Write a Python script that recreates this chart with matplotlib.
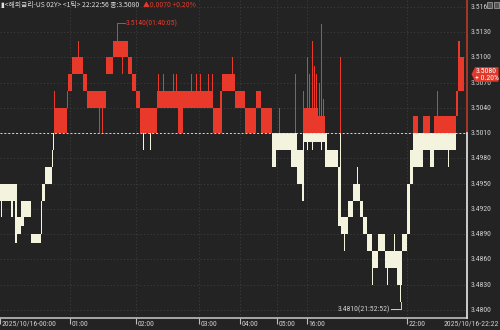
import numpy as np
import matplotlib
matplotlib.use("Agg")
import matplotlib.pyplot as plt
from matplotlib.patches import Polygon, Rectangle
from matplotlib import font_manager
from matplotlib.transforms import blended_transform_factory

# previous close (baseline) and last tick
base = 3.5010
last = 3.5080

# tick chart compressed into columns: runs of (length, low, high)
run_len = [11, 2, 2, 2, 4, 3, 7, 10, 1, 3, 7, 1, 1, 1, 12, 1, 4, 11, 4, 19,
           7, 15, 4, 4, 4, 17, 21, 5, 30, 7, 2, 13, 10, 11, 5, 11, 4, 16, 5, 5,
           2, 14, 7, 2, 11, 3, 7, 5, 7, 3, 4, 5, 6, 7, 13, 4, 5, 3, 3, 4,
           6, 7, 4, 22, 2, 2, 4]
run_lo = [3.4930, 3.4910, 3.4930, 3.4880, 3.4890, 3.4900, 3.4910, 3.4880, 3.4890, 3.4930,
          3.4950, 3.4970, 3.4990, 3.5010, 3.5010, 3.5040, 3.5060, 3.5080, 3.5060, 3.5040,
          3.5080, 3.5100, 3.5080, 3.5060, 3.5040, 3.5010, 3.5040, 3.5010, 3.5040, 3.5010,
          3.5010, 3.5060, 3.5040, 3.5010, 3.5040, 3.5010, 3.4970, 3.4990, 3.4970, 3.4950,
          3.4930, 3.5000, 3.5000, 3.4970, 3.4970, 3.4900, 3.4890, 3.4910, 3.4930, 3.4910,
          3.4890, 3.4870, 3.4850, 3.4870, 3.4850, 3.4830, 3.4870, 3.4890, 3.4950, 3.4970,
          3.4970, 3.4990, 3.4970, 3.4990, 3.5030, 3.5060, 3.5060]
run_hi = [3.4950, 3.4950, 3.4950, 3.4950, 3.4910, 3.4930, 3.4930, 3.4890, 3.4930, 3.4950,
          3.4970, 3.4990, 3.5010, 3.5060, 3.5040, 3.5060, 3.5080, 3.5100, 3.5080, 3.5060,
          3.5100, 3.5120, 3.5100, 3.5080, 3.5060, 3.5040, 3.5060, 3.5060, 3.5060, 3.5040,
          3.5060, 3.5080, 3.5060, 3.5040, 3.5060, 3.5040, 3.5010, 3.5010, 3.5010, 3.4990,
          3.4990, 3.5040, 3.5030, 3.5010, 3.4990, 3.4970, 3.4910, 3.4930, 3.4950, 3.4930,
          3.4910, 3.4890, 3.4870, 3.4890, 3.4870, 3.4870, 3.4890, 3.4950, 3.4990, 3.5030,
          3.5010, 3.5030, 3.5010, 3.5030, 3.5060, 3.5120, 3.5100]

# single-tick spikes: (column, low, high)
spike_at = [1, 78, 99, 102, 117, 122, 143, 150, 158, 163, 173, 176, 191, 196, 200,
            208, 212, 232, 279, 291, 295, 303, 307, 309, 312, 314, 316, 319, 321, 323,
            340, 344, 357, 372, 387, 394, 397, 400, 417, 437, 448]
spike_lo = [3.4910, 3.5080, 3.5010, 3.5010, 3.5100, 3.5080, 3.4990, 3.4990, 3.5040, 3.5040,
            3.5040, 3.5040, 3.5040, 3.5040, 3.5040, 3.5040, 3.5040, 3.5060, 3.4990, 3.4970,
            3.4970, 3.4930, 3.4990, 3.5000, 3.4990, 3.5000, 3.5000, 3.5000, 3.4990, 3.5000,
            3.4900, 3.4870, 3.4930, 3.4830, 3.4830, 3.4850, 3.4830, 3.4810, 3.4970, 3.4990,
            3.4970]
spike_hi = [3.4950, 3.5120, 3.5060, 3.5060, 3.5140, 3.5120, 3.5040, 3.5040, 3.5080, 3.5080,
            3.5080, 3.5080, 3.5080, 3.5080, 3.5080, 3.5080, 3.5080, 3.5100, 3.5040, 3.5010,
            3.5080, 3.5060, 3.5100, 3.5080, 3.5120, 3.5090, 3.5080, 3.5070, 3.5140, 3.5050,
            3.5100, 3.4910, 3.4970, 3.4870, 3.4870, 3.4890, 3.4870, 3.4870, 3.5030, 3.5060,
            3.5030]

yticks = [3.480 + 0.003 * i for i in range(13)]
time_pos = [0, 70, 136, 199, 240, 277, 307, 407]
time_lab = ["2025/10/16-00:00", "01:00", "02:00", "03:00", "04:00", "05:00", "16:00", "22:00"]
last_time = "2025/10/16-22:22"
max_idx, max_lab = 117, "3.5140(01:40:05)"
min_idx, min_lab = 400, "3.4810(21:52:52)"
header = "\u25ae<해외금리-US 02Y> <1틱> 22:22:56 종:3.5080"
header_chg = "\u25b20.0070 +0.20%"

# --- build column ranges ---
lo = np.repeat(run_lo, run_len)
hi = np.repeat(run_hi, run_len)
for c, a, b in zip(spike_at, spike_lo, spike_hi):
    lo[c] = min(lo[c], a)
    hi[c] = max(hi[c], b)
cols = np.arange(len(lo))

# narrow font if one is installed
have = {f.name for f in font_manager.fontManager.ttflist}
narrow = [n for n in ["Liberation Sans Narrow", "DejaVu Sans Condensed", "Roboto Condensed"] if n in have]
if narrow:
    fnt = dict(family=[narrow[0], "DejaVu Sans"], fontsize=5.6)
else:
    fnt = dict(family=["Liberation Sans", "DejaVu Sans"], fontsize=4.9)

BG = "#232323"
RED = "#e8392b"
CREAM = "#f4f4de"
TXT = "#cfcfcf"
W, H = 500, 330
ymin, ymax = 3.47905, 3.51681

fig = plt.figure(figsize=(5, 3.3), dpi=100, facecolor=BG)
ax = fig.add_axes([0, 12 / H, 467 / W, 318 / H])
ax.set_facecolor(BG)
ax.set_xlim(0, 467)
ax.set_ylim(ymin, ymax)

for v in yticks:
    ax.axhline(v, color="#3f3f3f", lw=0.6, ls=(0, (1.5, 2.5)), zorder=0)
for t in time_pos[1:]:
    ax.axvline(t, color="#3f3f3f", lw=0.6, ls=(0, (1.5, 2.5)), zorder=0)

# red part above the previous close, cream part below
up_lo = np.maximum(lo, base)
up_h = np.where(hi > base, hi - up_lo, 0)
dn_hi = np.minimum(hi, base)
dn_h = np.where(lo < base, dn_hi - lo, 0)
ax.bar(cols, np.where(up_h > 0, np.maximum(up_h, 0.00012), 0), bottom=up_lo,
       width=1.0, align="edge", color=RED, linewidth=0, zorder=2)
ax.bar(cols, np.where(dn_h > 0, np.maximum(dn_h, 0.00012), 0), bottom=lo,
       width=1.0, align="edge", color=CREAM, linewidth=0, zorder=2)

ax.axhline(base, color="#d8d8d8", lw=0.7, ls=(0, (2, 2)), zorder=3)

# right border: red above close, light below
ax.plot([467, 467], [base, ymax], color="#c0392b", lw=1.2, clip_on=False, zorder=4)
ax.plot([467, 467], [ymin, base], color="#e8e8e8", lw=1.2, clip_on=False, zorder=4)

for s in ["top", "right", "left"]:
    ax.spines[s].set_visible(False)
ax.spines["bottom"].set_color("#bdbdbd")
ax.spines["bottom"].set_linewidth(1.2)
ax.set_yticks([])
ax.set_xticks(time_pos)
ax.set_xticklabels([])
ax.tick_params(axis="x", direction="out", length=4, width=0.8, color="#bdbdbd")

xfig = blended_transform_factory(ax.transData, fig.transFigure)
for t, lab in zip(time_pos, time_lab):
    ax.text(t + 1.5, 1 - 323.5 / H, lab, transform=xfig, color=TXT, ha="left",
            va="center", clip_on=False, **fnt)
fig.text(499 / W, 1 - 323.5 / H, last_time, color=TXT, ha="right", va="center", **fnt)

for v in yticks:
    ax.text(1.008, (v - ymin) / (ymax - ymin), "%.4f" % v, transform=ax.transAxes,
            color=TXT, va="center", ha="left", clip_on=False, **fnt)

# max / min annotations
ax.plot([max_idx, max_idx + 8], [3.5141, 3.5141], color=RED, lw=0.7, zorder=4)
ax.text(max_idx + 9, 3.5141, max_lab, color=RED, va="center", ha="left", **fnt)
ax.plot([min_idx + 0.5, min_idx + 0.5, min_idx - 9], [lo[min_idx], 3.4801, 3.4801],
        color=TXT, lw=0.7, zorder=4, clip_on=False)
ax.text(min_idx - 10, 3.4801, min_lab, color=TXT, va="center", ha="right", **fnt)

# last price tag
yl = (12 + (last - ymin) / (ymax - ymin) * 318) / H
tag = Polygon([(471.5 / W, yl), (475 / W, yl + 7 / H), (498.5 / W, yl + 7 / H),
               (498.5 / W, yl - 7.5 / H), (475 / W, yl - 7.5 / H)],
              closed=True, transform=fig.transFigure, facecolor="#e03a2c", edgecolor="none", zorder=5)
fig.patches.append(tag)
fig.text(486.5 / W, yl + 3.2 / H, "%.4f" % last, color="white", ha="center", va="center", zorder=6, **fnt)
fig.text(486.5 / W, yl - 3.8 / H, "+ 0.20%", color="white", ha="center", va="center", zorder=6, **fnt)

# header
hf = dict(family=["Noto Sans CJK KR", "DejaVu Sans"], fontsize=4.9, va="center", ha="left")
h1 = fig.text(1 / W, 1 - 5 / H, header, color="#e0e0e0", **hf)
fig.canvas.draw()
x_end = h1.get_window_extent().x1
fig.text((x_end + 4) / W, 1 - 5 / H, header_chg, color=RED, **hf)
for x0 in (487, 494):
    fig.patches.append(Rectangle((x0 / W, 1 - 8 / H), 5 / W, 6 / H, transform=fig.transFigure,
                                 facecolor="#555555", edgecolor="#aaaaaa", lw=0.5))

fig.savefig("out.png", dpi=100, facecolor=BG)
